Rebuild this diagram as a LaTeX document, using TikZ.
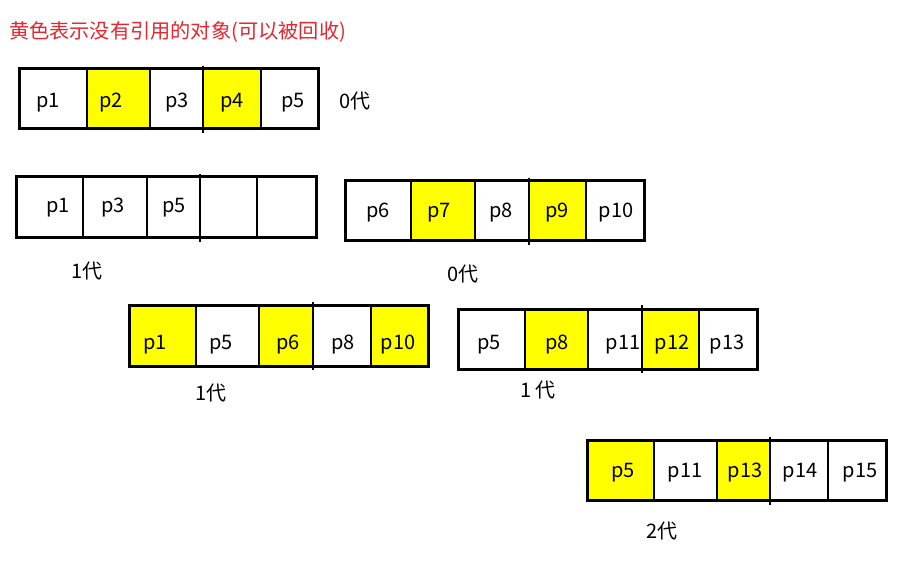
\documentclass[tikz,border=0pt]{standalone}
\usepackage{fontspec}
\setmainfont{Noto Sans CJK SC}
\definecolor{titlered}{RGB}{228,38,48}
\definecolor{ylw}{RGB}{255,255,0}
\tikzset{
  outer/.style={line width=3pt},
  divline/.style={line width=2pt},
  middiv/.style={line width=2.5pt},
  yfill/.style={fill=ylw},
  lbl/.style={inner sep=0pt, font=\fontsize{20}{23}\selectfont},
  genlbl/.style={inner sep=0pt, font=\fontsize{20}{23}\selectfont},
}
\begin{document}
\begin{tikzpicture}[x=1pt,y=-1pt]
\useasboundingbox (0,0) rectangle (906,583);
\node[anchor=west, inner sep=0pt, text=titlered, font=\fontsize{20.2}{23}\selectfont] (title) at (9,32) {黄色表示没有引用的对象(可以被回收)};

% Row 1
\fill[yfill] (87,69) rectangle (150,129);
\fill[yfill] (203,69) rectangle (261,129);
\draw[divline] (87,69) -- (87,129) (150,69) -- (150,129) (261,69) -- (261,129);
\draw[middiv] (203,66) -- (203,133);
\draw[outer] (19,69) rectangle (318,129);
\node[lbl] (a1) at (48,103) {p1};
\node[lbl] (a2) at (111,103) {p2};
\node[lbl] (a3) at (177,103) {p3};
\node[lbl] (a4) at (232,103) {p4};
\node[lbl] (a5) at (293,103) {p5};
\node[genlbl] (ga) at (355,101) {0代};

% Row 2 left
\draw[divline] (83,177) -- (83,238) (147,177) -- (147,238) (257,177) -- (257,238);
\draw[middiv] (200,174) -- (200,242);
\draw[outer] (16,177) rectangle (316,238);
\node[lbl] (b1) at (58,208) {p1};
\node[lbl] (b2) at (113,208) {p3};
\node[lbl] (b3) at (174,208) {p5};
\node[genlbl] (gb) at (87,271) {1代};

% Row 2 right
\fill[yfill] (411,181) rectangle (475,241);
\fill[yfill] (529,181) rectangle (586,241);
\draw[divline] (411,181) -- (411,241) (475,181) -- (475,241) (586,181) -- (586,241);
\draw[middiv] (529,178) -- (529,245);
\draw[outer] (345,181) rectangle (644,241);
\node[lbl] (c1) at (378,213) {p6};
\node[lbl] (c2) at (439,213) {p7};
\node[lbl] (c3) at (501,213) {p8};
\node[lbl] (c4) at (557,213) {p9};
\node[lbl] (c5) at (616,213) {p10};
\node[genlbl] (gc) at (463,274) {0代};

% Row 3 left
\fill[yfill] (129,305) rectangle (196,366);
\fill[yfill] (259,305) rectangle (313,366);
\fill[yfill] (371,305) rectangle (428,366);
\draw[divline] (196,305) -- (196,366) (259,305) -- (259,366) (371,305) -- (371,366);
\draw[middiv] (313,302) -- (313,370);
\draw[outer] (129,305) rectangle (428,366);
\node[lbl] (d1) at (155,345) {p1};
\node[lbl] (d2) at (221,345) {p5};
\node[lbl] (d3) at (288,345) {p6};
\node[lbl] (d4) at (343,345) {p8};
\node[lbl] (d5) at (398,345) {p10};
\node[genlbl] (gd) at (211,393) {1代};

% Row 3 right
\fill[yfill] (525,309) rectangle (588,369);
\fill[yfill] (642,309) rectangle (699,369);
\draw[divline] (525,309) -- (525,369) (588,309) -- (588,369) (699,309) -- (699,369);
\draw[middiv] (642,305) -- (642,373);
\draw[outer] (458,309) rectangle (757,369);
\node[lbl] (e1) at (489,345) {p5};
\node[lbl] (e2) at (557,345) {p8};
\node[lbl] (e3) at (623,345) {p11};
\node[lbl] (e4) at (672,345) {p12};
\node[lbl] (e5) at (727,345) {p13};
\node[genlbl] (ge) at (538,390) {1 代};

% Row 4
\fill[yfill] (587,440) rectangle (654,500);
\fill[yfill] (717,440) rectangle (770,500);
\draw[divline] (654,440) -- (654,500) (717,440) -- (717,500) (828,440) -- (828,500);
\draw[middiv] (770,437) -- (770,505);
\draw[outer] (587,440) rectangle (886,500);
\node[lbl] (f1) at (623,473) {p5};
\node[lbl] (f2) at (685,473) {p11};
\node[lbl] (f3) at (745,473) {p13};
\node[lbl] (f4) at (800,473) {p14};
\node[lbl] (f5) at (860,473) {p15};
\node[genlbl] (gf) at (662,531) {2代};
\end{tikzpicture}
\end{document}
